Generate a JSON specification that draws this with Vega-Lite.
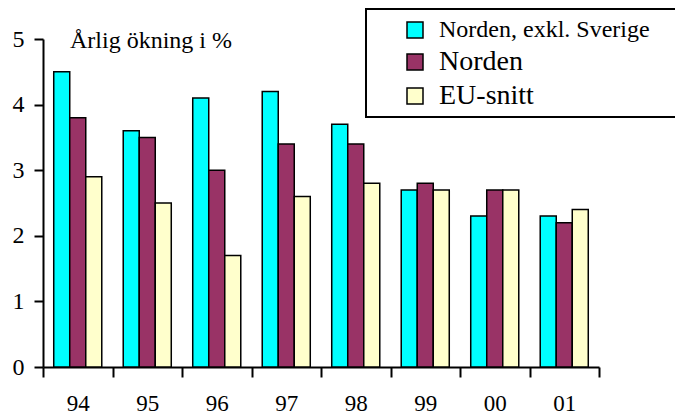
{
  "$schema": "https://vega.github.io/schema/vega-lite/v6.json",
  "width": 556,
  "height": 328,
  "autosize": {"type": "none"},
  "padding": {"left": 43, "top": 39, "right": 76, "bottom": 51},
  "background": "white",
  "title": {
    "text": "Årlig ökning i %",
    "anchor": "start",
    "frame": "group",
    "dx": 27,
    "dy": 64,
    "offset": 0,
    "baseline": "alphabetic",
    "font": "Liberation Serif",
    "fontSize": 24,
    "fontWeight": "normal",
    "color": "black"
  },
  "data": {
    "values": [
      {"year": "94", "series": "Norden, exkl. Sverige", "value": 4.5},
      {"year": "94", "series": "Norden", "value": 3.8},
      {"year": "94", "series": "EU-snitt", "value": 2.9},
      {"year": "95", "series": "Norden, exkl. Sverige", "value": 3.6},
      {"year": "95", "series": "Norden", "value": 3.5},
      {"year": "95", "series": "EU-snitt", "value": 2.5},
      {"year": "96", "series": "Norden, exkl. Sverige", "value": 4.1},
      {"year": "96", "series": "Norden", "value": 3.0},
      {"year": "96", "series": "EU-snitt", "value": 1.7},
      {"year": "97", "series": "Norden, exkl. Sverige", "value": 4.2},
      {"year": "97", "series": "Norden", "value": 3.4},
      {"year": "97", "series": "EU-snitt", "value": 2.6},
      {"year": "98", "series": "Norden, exkl. Sverige", "value": 3.7},
      {"year": "98", "series": "Norden", "value": 3.4},
      {"year": "98", "series": "EU-snitt", "value": 2.8},
      {"year": "99", "series": "Norden, exkl. Sverige", "value": 2.7},
      {"year": "99", "series": "Norden", "value": 2.8},
      {"year": "99", "series": "EU-snitt", "value": 2.7},
      {"year": "00", "series": "Norden, exkl. Sverige", "value": 2.3},
      {"year": "00", "series": "Norden", "value": 2.7},
      {"year": "00", "series": "EU-snitt", "value": 2.7},
      {"year": "01", "series": "Norden, exkl. Sverige", "value": 2.3},
      {"year": "01", "series": "Norden", "value": 2.2},
      {"year": "01", "series": "EU-snitt", "value": 2.4}
    ]
  },
  "mark": {"type": "bar", "stroke": "black", "strokeWidth": 1.5},
  "encoding": {
    "x": {
      "field": "year",
      "type": "nominal",
      "sort": null,
      "scale": {"paddingInner": 0, "paddingOuter": 0},
      "axis": {
        "title": null,
        "labelAngle": 0,
        "tickBand": "extent",
        "tickSize": 10,
        "tickWidth": 2,
        "tickColor": "black",
        "domainColor": "black",
        "domainWidth": 2,
        "labelFont": "Liberation Serif",
        "labelFontSize": 23,
        "labelColor": "black",
        "labelPadding": 15
      }
    },
    "xOffset": {
      "field": "series",
      "type": "nominal",
      "sort": ["Norden, exkl. Sverige", "Norden", "EU-snitt"],
      "scale": {"paddingInner": 0, "paddingOuter": 0.67}
    },
    "y": {
      "field": "value",
      "type": "quantitative",
      "scale": {"domain": [0, 5], "nice": false},
      "axis": {
        "title": null,
        "values": [0, 1, 2, 3, 4, 5],
        "grid": false,
        "tickSize": 9,
        "tickWidth": 2,
        "tickColor": "black",
        "domainColor": "black",
        "domainWidth": 2,
        "labelFont": "Liberation Serif",
        "labelFontSize": 24,
        "labelColor": "black",
        "labelPadding": 10
      }
    },
    "color": {
      "field": "series",
      "type": "nominal",
      "sort": ["Norden, exkl. Sverige", "Norden", "EU-snitt"],
      "scale": {
        "domain": ["Norden, exkl. Sverige", "Norden", "EU-snitt"],
        "range": ["#00FFFF", "#993366", "#FFFFCC"]
      },
      "legend": {
        "title": "\u00a0",
        "titleOrient": "right",
        "titlePadding": 20,
        "titleFontSize": 4,
        "orient": "none",
        "legendX": 323,
        "legendY": -30,
        "strokeColor": "black",
        "fillColor": "white",
        "padding": 7,
        "symbolType": "square",
        "symbolSize": 256,
        "symbolStrokeColor": "black",
        "symbolStrokeWidth": 1.5,
        "symbolOpacity": 1,
        "symbolOffset": 28,
        "labelOffset": 10,
        "labelFont": "Liberation Serif",
        "labelFontSize": 28,
        "labelColor": "black",
        "labelLimit": 500,
        "rowPadding": 6,
        "encode": {
          "labels": {
            "update": {
              "fontSize": {"signal": "datum.value === 'Norden, exkl. Sverige' ? 24 : 28"}
            }
          },
          "legend": {
            "update": {"strokeWidth": {"value": 2}}
          }
        }
      }
    }
  },
  "config": {
    "view": {"stroke": null},
    "font": "Liberation Serif"
  }
}
